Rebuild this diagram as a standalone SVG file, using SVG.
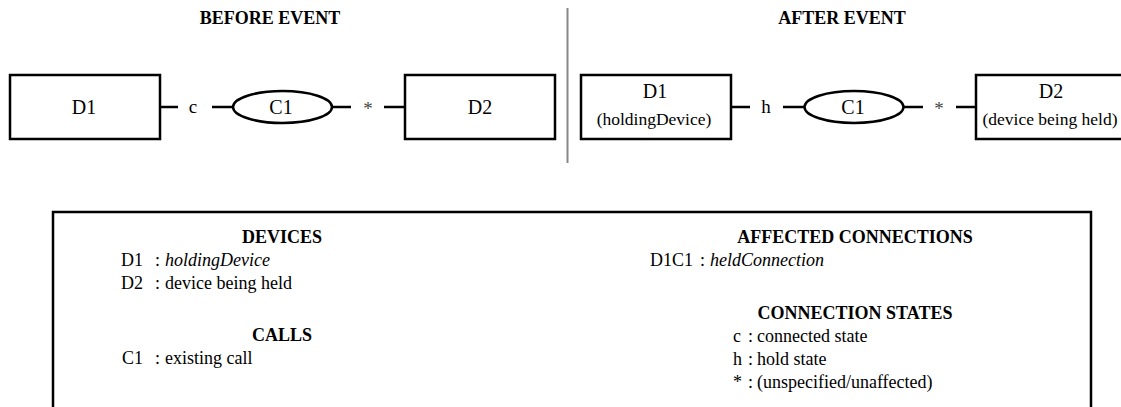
<svg xmlns="http://www.w3.org/2000/svg" width="1121" height="407" viewBox="0 0 1121 407">
<style>
text{font-family:"Liberation Serif","Times New Roman",serif;fill:#000}
.h{font-weight:bold;font-size:18px;text-anchor:middle}
.lbl{font-size:20px;text-anchor:middle}
.sub{font-size:17.5px;text-anchor:middle}
.st{font-size:19px;text-anchor:middle}
.ast{font-size:19px;text-anchor:middle;fill:#444}
.lg{font-size:18px}
.it{font-style:italic}
.box{fill:#fff;stroke:#000;stroke-width:2.5}
.ln{stroke:#000;stroke-width:2.5;fill:none}
</style>
<rect width="1121" height="407" fill="#fff"/>
<text class="h" x="270" y="24">BEFORE EVENT</text>
<text class="h" x="842" y="24">AFTER EVENT</text>
<line x1="567.5" y1="8" x2="567.5" y2="163" stroke="#888" stroke-width="2"/>
<g id="connectors">
<line class="ln" x1="160" y1="107" x2="178" y2="107"/>
<line class="ln" x1="212" y1="107" x2="233" y2="107"/>
<line class="ln" x1="332" y1="107" x2="351" y2="107"/>
<line class="ln" x1="384" y1="107" x2="405" y2="107"/>
<text class="st" x="193" y="113">c</text>
<text class="ast" x="368" y="115">*</text>
<line class="ln" x1="731" y1="107" x2="750" y2="107"/>
<line class="ln" x1="783" y1="107" x2="805" y2="107"/>
<line class="ln" x1="903" y1="107" x2="923" y2="107"/>
<line class="ln" x1="956" y1="107" x2="976" y2="107"/>
<text class="st" x="766" y="113">h</text>
<text class="ast" x="939" y="115">*</text>
</g>
<g id="before-D1"><rect class="box" x="10" y="75" width="150" height="64"/><text class="lbl" x="84" y="114">D1</text></g>
<g id="before-C1"><ellipse class="box" cx="282.5" cy="107" rx="49.5" ry="16"/><text class="lbl" x="281" y="114">C1</text></g>
<g id="before-D2"><rect class="box" x="405" y="75" width="150" height="64"/><text class="lbl" x="480" y="114">D2</text></g>
<g id="after-D1"><rect class="box" x="581" y="75" width="150" height="64"/><text class="lbl" x="655" y="98">D1</text><text class="sub" x="654" y="125">(holdingDevice)</text></g>
<g id="after-C1"><ellipse class="box" cx="854" cy="107" rx="49.5" ry="16"/><text class="lbl" x="853" y="114">C1</text></g>
<g id="after-D2"><rect class="box" x="976" y="75" width="150" height="64"/><text class="lbl" x="1051" y="98">D2</text><text class="sub" x="1050" y="125">(device being held)</text></g>
<g id="legend">
<rect x="53" y="212" width="1038" height="220" fill="none" stroke="#000" stroke-width="2.5"/>
<text class="h" x="282" y="243">DEVICES</text>
<text class="lg" x="121" y="266">D1</text><text class="lg" x="155" y="266">:</text><text class="lg it" x="165" y="266">holdingDevice</text>
<text class="lg" x="121" y="289">D2</text><text class="lg" x="155" y="289">:</text><text class="lg" x="165" y="289">device being held</text>
<text class="h" x="282" y="341">CALLS</text>
<text class="lg" x="122" y="364">C1</text><text class="lg" x="155" y="364">:</text><text class="lg" x="165" y="364">existing call</text>
<text class="h" x="855" y="243">AFFECTED CONNECTIONS</text>
<text class="lg" x="650" y="266">D1C1</text><text class="lg" x="700" y="266">:</text><text class="lg it" x="710" y="266">heldConnection</text>
<text class="h" x="855" y="319">CONNECTION STATES</text>
<text class="lg" x="733" y="342">c</text><text class="lg" x="748" y="342">:</text><text class="lg" x="757" y="342">connected state</text>
<text class="lg" x="733" y="365">h</text><text class="lg" x="748" y="365">:</text><text class="lg" x="757" y="365">hold state</text>
<text class="lg" x="733" y="388">*</text><text class="lg" x="748" y="388">:</text><text class="lg" x="757" y="388">(unspecified/unaffected)</text>
</g>
</svg>
